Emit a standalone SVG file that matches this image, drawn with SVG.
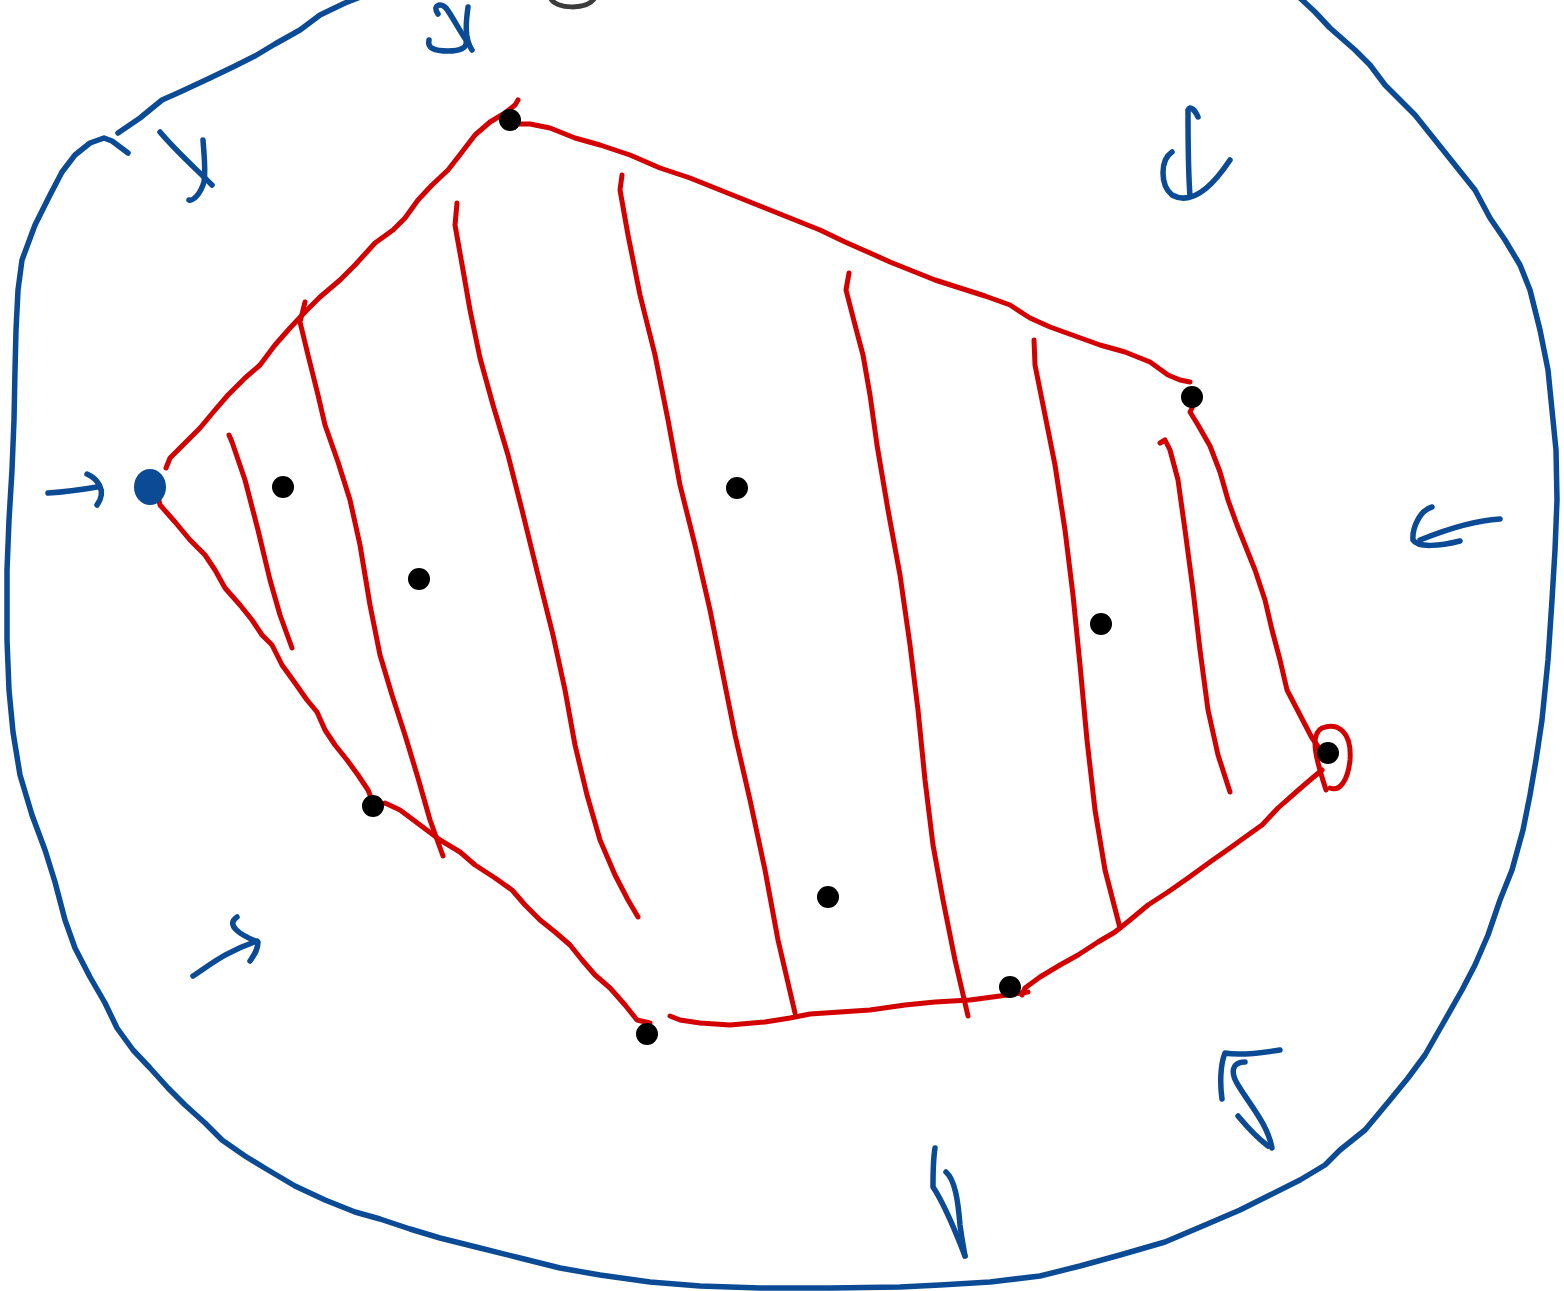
<svg xmlns="http://www.w3.org/2000/svg" width="1564" height="1291" viewBox="0 0 1564 1291">
<style>
.b{fill:none;stroke:#0b4a94;stroke-width:5.5;stroke-linecap:round;stroke-linejoin:round}
.r{fill:none;stroke:#d40000;stroke-width:5;stroke-linecap:round;stroke-linejoin:round}
.d{fill:#000}
</style>
<rect width="1564" height="1291" fill="#fff"/>
<g id="outer">
<polyline class="b" points="118,133 140,118 162,100 180,92 210,78 235,66 255,56 275,44 300,30 320,15 345,3 358,-2"/>
<polyline class="b" points="1300,-2 1315,12 1330,28 1355,50 1370,65 1385,85 1400,100 1415,115 1435,140 1455,165 1475,190 1490,218 1505,240 1520,265 1530,290 1540,330 1548,370 1552,410 1556,450 1557,500 1555,550 1552,600 1548,660 1542,720 1536,760 1530,795 1523,830 1512,870 1500,900 1488,935 1475,965 1462,990 1445,1020 1425,1055 1408,1078 1390,1100 1365,1130 1340,1150 1325,1165 1300,1180 1270,1195 1240,1210 1205,1225 1165,1242 1120,1255 1080,1266 1040,1276 990,1282 940,1285 900,1287 830,1288 760,1288 700,1286 650,1282 600,1275 560,1268 520,1258 480,1248 440,1238 410,1229 380,1219 355,1212 325,1200 295,1186 268,1170 245,1156 222,1140 205,1123 185,1105 168,1088 150,1068 133,1050 117,1028 105,1003 90,977 75,948 65,920 55,882 45,850 32,815 20,775 13,732 9,690 7,640 7,570 9,520 12,470 14,420 15,370 16,330 18,290 22,260 35,225 50,195 62,172 75,155 90,143 104,138 112,141 128,153"/>
</g>
<g id="glyphs">
<path d="M551,-1 C556,9 586,10 594,-1" fill="none" stroke="#3c3c3c" stroke-width="5" stroke-linecap="round"/>
<path class="b" d="M438,14 C432,6 440,2 446,8 C452,16 458,28 466,40 C468,48 460,51 448,51 C434,51 427,48 429,40"/>
<path class="b" d="M468,7 C466,22 464,38 472,50"/>
<path class="b" d="M160,132 C175,150 195,168 212,185"/>
<path class="b" d="M203,140 C204,155 206,170 204,182 C200,195 193,201 189,200"/>
<path class="b" d="M1198,117 C1195,110 1190,105 1188,110 C1188,140 1188,170 1190,196"/>
<path class="b" d="M1172,152 C1160,160 1160,185 1172,195 C1190,205 1210,190 1230,160"/>
<path class="b" d="M1500,519 C1480,520 1450,528 1420,540"/>
<path class="b" d="M1432,507 C1420,510 1412,528 1413,540 C1418,548 1440,546 1460,541"/>
<path class="b" d="M48,493 C65,492 80,490 97,487"/>
<path class="b" d="M87,474 C96,478 108,490 97,505"/>
<path class="b" d="M193,976 C210,965 225,952 257,941"/>
<path class="b" d="M237,917 C225,925 240,935 258,942 C258,950 254,955 250,961"/>
<path class="b" d="M1222,1099 C1220,1085 1220,1065 1225,1053 C1235,1055 1255,1054 1280,1050"/>
<path class="b" d="M1245,1062 C1232,1062 1230,1072 1238,1085 C1250,1105 1268,1125 1272,1148"/>
<path class="b" d="M1238,1116 C1248,1128 1260,1140 1268,1146"/>
<path class="b" d="M935,1148 C933,1160 933,1175 933,1187 C945,1205 955,1230 965,1256"/>
<path class="b" d="M946,1172 C955,1180 958,1200 960,1225 C962,1240 964,1250 965,1256"/>
</g>
<g id="connectors">
<polyline class="r" points="166,468 170,458 185,443 200,428 215,410 228,395 245,378 260,365 275,345 290,328 305,312 320,297 340,280 355,265 375,243 393,230 405,218 418,200 432,185 448,170 462,152 475,135 490,122 505,113 515,105 518,100"/>
<polyline class="r" points="512,124 530,124 550,128 575,138 600,145 630,155 660,168 690,178 720,190 745,200 765,208 790,218 820,230 845,242 870,253 890,262 910,270 935,280 960,288 985,296 1010,305 1030,318 1050,327 1075,336 1100,345 1125,352 1150,362 1168,375 1180,380 1190,382"/>
<polyline class="r" points="1192,408 1190,412 1198,425 1210,446 1220,472 1228,500 1237,525 1245,545 1255,570 1265,600 1272,630 1280,660 1287,690 1300,715 1312,738 1322,752"/>
<path class="r" d="M1326,790 C1318,765 1308,735 1322,728 C1338,722 1352,732 1350,760 C1348,780 1340,792 1330,788"/>
<polyline class="r" points="1322,770 1310,780 1295,793 1278,808 1262,825 1248,835 1230,848 1210,862 1188,878 1168,892 1148,905 1130,920 1115,932 1098,942 1078,955 1060,965 1040,977 1025,988 1022,995"/>
<polyline class="r" points="1028,992 1000,996 970,1000 935,1002 905,1005 870,1010 840,1012 810,1014 790,1018 765,1022 730,1025 700,1023 680,1020 670,1016"/>
<polyline class="r" points="158,496 160,505 175,522 190,540 205,555 215,570 225,588 240,605 252,620 262,635 272,645 282,665 295,683 307,700 317,712 325,730 335,745 347,760 358,775 368,790 372,800"/>
<polyline class="r" points="371,809 385,803 400,810 420,825 440,840 460,852 475,865 495,878 512,890 525,905 540,920 555,932 570,945 582,960 595,975 610,988 625,1005 637,1020 650,1023"/>
<polyline class="r" points="229,435 232,442 245,480 258,530 270,580 280,615 292,648"/>
<polyline class="r" points="305,302 300,322 308,355 318,395 325,425 338,462 350,500 360,545 370,605 380,655 392,695 405,735 418,778 430,820 443,856"/>
<polyline class="r" points="457,203 455,225 463,270 470,310 480,358 493,405 508,455 522,510 538,575 553,635 565,690 575,745 587,795 600,840 615,875 628,900 638,917"/>
<polyline class="r" points="622,175 620,190 628,235 640,295 655,355 668,420 680,485 695,545 710,610 722,670 735,735 750,800 765,870 778,940 795,1013"/>
<polyline class="r" points="849,273 846,290 855,325 863,355 870,395 877,445 888,510 900,575 910,645 918,710 925,780 933,845 943,900 955,960 968,1016"/>
<polyline class="r" points="1034,340 1035,365 1045,415 1055,465 1065,530 1073,595 1080,665 1087,740 1095,810 1105,870 1120,928"/>
<polyline class="r" points="1160,443 1165,440 1170,450 1178,480 1185,530 1193,590 1200,650 1208,710 1218,755 1230,792"/>
</g>
<g id="n-blue"><ellipse cx="150" cy="487" rx="16" ry="18" fill="#0b4a94"/></g>
<g id="n1"><circle class="d" cx="510" cy="120" r="11"/></g>
<g id="n2"><circle class="d" cx="283" cy="487" r="11"/></g>
<g id="n3"><circle class="d" cx="419" cy="579" r="11"/></g>
<g id="n4"><circle class="d" cx="737" cy="488" r="11"/></g>
<g id="n5"><circle class="d" cx="1101" cy="624" r="11"/></g>
<g id="n6"><circle class="d" cx="828" cy="897" r="11"/></g>
<g id="n7"><circle class="d" cx="1010" cy="987" r="11"/></g>
<g id="n8"><circle class="d" cx="647" cy="1034" r="11"/></g>
<g id="n9"><circle class="d" cx="1192" cy="397" r="11"/></g>
<g id="n10"><circle class="d" cx="1328" cy="753" r="11"/></g>
<g id="n11"><circle class="d" cx="373" cy="806" r="11"/></g>
</svg>
